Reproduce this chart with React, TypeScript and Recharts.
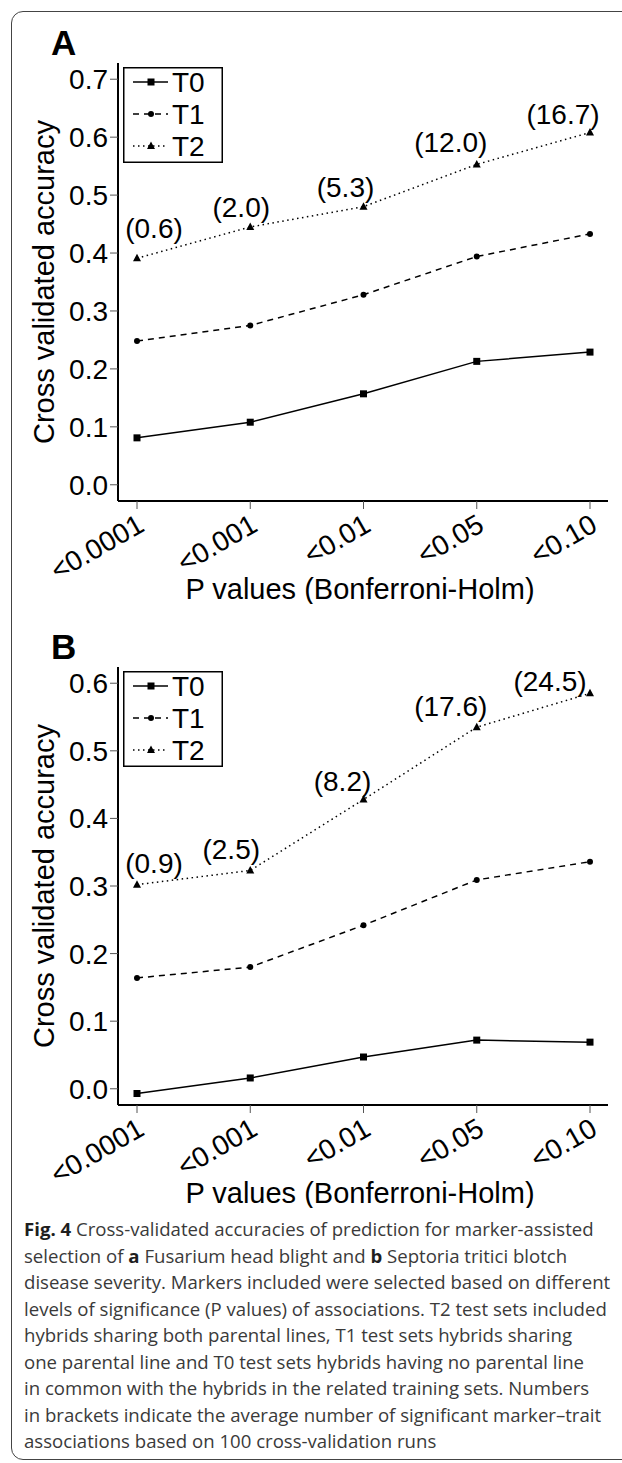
import { LineChart, Line, XAxis, YAxis, Legend, LabelList } from "recharts";

const pValues = ["<0.0001", "<0.001", "<0.01", "<0.05", "<0.10"];
const seriesNames = ["T0", "T1", "T2"];

// panel A: Fusarium head blight
const fhbT0 = [0.081, 0.108, 0.157, 0.213, 0.229];
const fhbT1 = [0.248, 0.275, 0.328, 0.394, 0.433];
const fhbT2 = [0.391, 0.445, 0.48, 0.553, 0.608];
const fhbMarkers = [0.6, 2.0, 5.3, 12.0, 16.7];
const fhbTicks = [0, 0.1, 0.2, 0.3, 0.4, 0.5, 0.6, 0.7];

// panel B: Septoria tritici blotch
const stbT0 = [-0.007, 0.016, 0.047, 0.072, 0.069];
const stbT1 = [0.164, 0.18, 0.242, 0.309, 0.336];
const stbT2 = [0.302, 0.323, 0.428, 0.535, 0.585];
const stbMarkers = [0.9, 2.5, 8.2, 17.6, 24.5];
const stbTicks = [0, 0.1, 0.2, 0.3, 0.4, 0.5, 0.6];

// where the bracketed counts sit relative to their triangle (px)
const fhbLabelShift = [[17, -28], [-9, -18], [-18, -18], [-26, -20], [-27, -17]];
const stbLabelShift = [[17, -20], [-19, -19], [-21, -16], [-26, -19], [-40, -10]];

const FONT = '"Liberation Sans", Arial, Helvetica, sans-serif';
const TICK_SIZE = 28;
const TITLE_SIZE = 29;

const dashes: Record<string, string | undefined> = {
  T0: undefined,
  T1: "6 5",
  T2: "1.5 3.5",
};

function Marker({ name, cx, cy }: { name: string; cx: number; cy: number }) {
  if (name === "T0") {
    return <rect x={cx - 3.5} y={cy - 3.5} width={7} height={7} fill="#000" />;
  }
  if (name === "T1") {
    return <circle cx={cx} cy={cy} r={3} fill="#000" />;
  }
  return (
    <polygon
      points={`${cx},${cy - 4.5} ${cx - 4},${cy + 3} ${cx + 4},${cy + 3}`}
      fill="#000"
    />
  );
}

const dotFor = (name: string) => (props: any) => {
  const { cx, cy, index } = props;
  if (cx == null || cy == null) return <g key={`${name}-${index}`} />;
  return (
    <g key={`${name}-${index}`}>
      <Marker name={name} cx={cx} cy={cy} />
    </g>
  );
};

function KeyBox() {
  return (
    <svg width={100} height={96} style={{ display: "block" }}>
      <rect x={0.75} y={0.75} width={98.5} height={94.5} fill="#fff" stroke="#000" strokeWidth={1.5} />
      {seriesNames.map((name, i) => {
        const y = 15 + i * 32;
        return (
          <g key={name}>
            <line
              x1={10}
              x2={45}
              y1={y}
              y2={y}
              stroke="#000"
              strokeWidth={1.5}
              strokeDasharray={dashes[name]}
            />
            <Marker name={name} cx={28} cy={y} />
            <text x={49} y={y + 10} fontSize={TICK_SIZE} fontFamily={FONT} fill="#000">
              {name}
            </text>
          </g>
        );
      })}
    </svg>
  );
}

function XTick(props: any) {
  const { x, y, payload } = props;
  return (
    <g transform={`translate(${x + 9},${y + 21})`}>
      <text
        x={0}
        y={0}
        textAnchor="end"
        transform="rotate(-30)"
        fontSize={TICK_SIZE}
        fontFamily={FONT}
        fill="#000"
      >
        {payload.value}
      </text>
    </g>
  );
}

const countLabel = (shifts: number[][]) => (props: any) => {
  const { index, value } = props;
  const x = props.x ?? props.viewBox?.x;
  const y = props.y ?? props.viewBox?.y;
  const [dx, dy] = shifts[index];
  return (
    <text
      key={`n-${index}`}
      x={x + dx}
      y={y + dy + 8}
      textAnchor="middle"
      fontSize={TICK_SIZE}
      fontFamily={FONT}
      fill="#000"
    >
      ({Number(value).toFixed(1)})
    </text>
  );
};

type PanelProps = {
  letter: string;
  top: number;
  t0: number[];
  t1: number[];
  t2: number[];
  markers: number[];
  ticks: number[];
  domain: [number, number];
  shifts: number[][];
};

function Panel({ letter, top, t0, t1, t2, markers, ticks, domain, shifts }: PanelProps) {
  const rows = pValues.map((p, i) => ({ p, T0: t0[i], T1: t1[i], T2: t2[i], n: markers[i] }));
  const boxLine = { stroke: "#000", strokeWidth: 2 };
  const tickLine = { stroke: "#555", strokeWidth: 1 };
  return (
    <div style={{ position: "absolute", left: 0, top, width: 622, height: 604 }}>
      <LineChart
        width={622}
        height={604}
        data={rows}
        margin={{ top: 63, right: 14, bottom: 43, left: 0 }}
      >
        <XAxis
          dataKey="p"
          padding={{ left: 19, right: 18 }}
          height={60}
          tickSize={8}
          tickMargin={0}
          axisLine={boxLine}
          tickLine={tickLine}
          tick={<XTick />}
          interval={0}
          label={{
            value: "P values (Bonferroni-Holm)",
            position: "bottom",
            offset: 17,
            dx: -3,
            fontSize: TITLE_SIZE,
            fontFamily: FONT,
            fill: "#000",
          }}
        />
        <XAxis
          xAxisId="top"
          orientation="top"
          dataKey="p"
          height={0}
          tick={false}
          tickLine={false}
          axisLine={boxLine}
        />
        <YAxis
          type="number"
          domain={domain}
          ticks={ticks}
          allowDataOverflow
          width={118}
          tickSize={8}
          tickMargin={2}
          axisLine={boxLine}
          tickLine={tickLine}
          tickFormatter={(v: number) => v.toFixed(1)}
          tick={{ fontSize: TICK_SIZE, fontFamily: FONT, fill: "#000" }}
          label={{
            value: "Cross validated accuracy",
            angle: -90,
            position: "center",
            dx: -15,
            fontSize: TITLE_SIZE,
            fontFamily: FONT,
            fill: "#000",
          }}
        />
        <YAxis
          yAxisId="right"
          orientation="right"
          type="number"
          domain={domain}
          width={0}
          tick={false}
          tickLine={false}
          axisLine={boxLine}
        />
        <Legend
          layout="vertical"
          align="center"
          verticalAlign="middle"
          content={() => <KeyBox />}
          wrapperStyle={{ left: 123, top: 67, width: 100, height: 96 }}
        />
        <Line
          dataKey="T0"
          stroke="#000"
          strokeWidth={1.5}
          dot={dotFor("T0")}
          activeDot={false}
          isAnimationActive={false}
        />
        <Line
          dataKey="T1"
          stroke="#000"
          strokeWidth={1.5}
          strokeDasharray={dashes.T1}
          dot={dotFor("T1")}
          activeDot={false}
          isAnimationActive={false}
        />
        <Line
          dataKey="T2"
          stroke="#000"
          strokeWidth={1.5}
          strokeDasharray={dashes.T2}
          dot={dotFor("T2")}
          activeDot={false}
          isAnimationActive={false}
        >
          <LabelList dataKey="n" content={countLabel(shifts)} />
        </Line>
      </LineChart>
      <svg width={100} height={70} style={{ position: "absolute", left: 0, top: 0 }}>
        <text x={51} y={55} fontSize={35} fontWeight="bold" fontFamily={FONT} fill="#000">
          {letter}
        </text>
      </svg>
    </div>
  );
}

const captionLines = [
  [["Fig. 4", true], [" Cross-validated accuracies of prediction for marker-assisted", false]],
  [["selection of ", false], ["a", true], [" Fusarium head blight and ", false], ["b", true], [" Septoria tritici blotch", false]],
  [["disease severity. Markers included were selected based on different", false]],
  [["levels of significance (P values) of associations. T2 test sets included", false]],
  [["hybrids sharing both parental lines, T1 test sets hybrids sharing", false]],
  [["one parental line and T0 test sets hybrids having no parental line", false]],
  [["in common with the hybrids in the related training sets. Numbers", false]],
  [["in brackets indicate the average number of significant marker\u2013trait", false]],
  [["associations based on 100 cross-validation runs", false]],
] as [string, boolean][][];

export default function App() {
  return (
    <div
      style={{
        position: "absolute",
        left: 0,
        top: 0,
        width: 622,
        height: 1463,
        overflow: "hidden",
        background: "#fff",
      }}
    >
      <div
        style={{
          position: "absolute",
          left: 11,
          top: 11,
          width: 700,
          height: 1449,
          border: "1.5px solid #444",
          borderRadius: 12,
          boxSizing: "border-box",
        }}
      />
      <Panel
        letter="A"
        top={0}
        t0={fhbT0}
        t1={fhbT1}
        t2={fhbT2}
        markers={fhbMarkers}
        ticks={fhbTicks}
        domain={[-0.028, 0.728]}
        shifts={fhbLabelShift}
      />
      <Panel
        letter="B"
        top={604}
        t0={stbT0}
        t1={stbT1}
        t2={stbT2}
        markers={stbMarkers}
        ticks={stbTicks}
        domain={[-0.024, 0.624]}
        shifts={stbLabelShift}
      />
      <div
        style={{
          position: "absolute",
          left: 24,
          top: 1216,
          fontFamily: '"Open Sans", "Noto Sans", sans-serif',
          fontSize: 18.6,
          lineHeight: "26.5px",
          color: "#3a3a3a",
          whiteSpace: "nowrap",
        }}
      >
        {captionLines.map((line, i) => (
          <div key={i}>
            {line.map(([t, bold], j) =>
              bold ? (
                <b key={j} style={{ color: "#1e1e1e" }}>
                  {t}
                </b>
              ) : (
                <span key={j}>{t}</span>
              )
            )}
          </div>
        ))}
      </div>
    </div>
  );
}
